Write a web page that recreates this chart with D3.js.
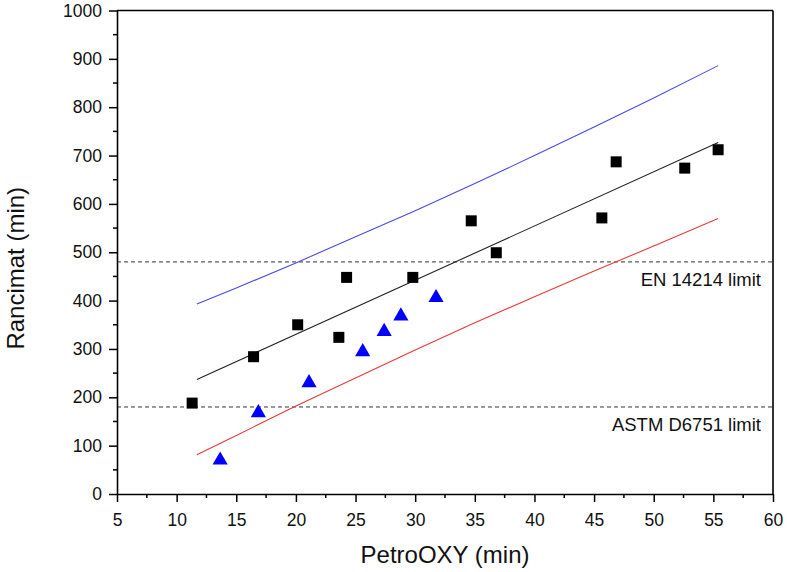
<!DOCTYPE html>
<html><head><meta charset="utf-8">
<script src="https://cdn.jsdelivr.net/npm/d3@7"></script>
<style>body{margin:0;background:#fff}svg{display:block}text{font-family:Arial,"Liberation Sans",sans-serif}</style>
</head><body><svg id="c" width="787" height="572"></svg>
<script>
// Data
const squaresX = [11.3, 16.45, 20.15, 23.6, 24.25, 29.8, 34.7, 36.8, 45.65, 46.85, 52.6, 55.4];
const squaresY = [188, 284, 350, 324, 448, 448, 565, 499, 571, 687, 674, 712];
const trianglesX = [13.65, 16.85, 21.1, 25.6, 27.4, 28.8, 31.75];
const trianglesY = [72, 170, 232, 296, 338, 370, 408];
const fitX = [11.7, 55.4];
const fitY = [237, 727];
const bandX = [11.7, 15, 20, 25, 30, 35, 40, 45, 50, 55.4];
const upperY = [393, 426, 478, 532, 586, 642, 700, 759, 819, 886];
const lowerY = [81, 121, 182, 240, 298, 354, 408, 461, 513, 570];
const limitValues = [480, 180];
const limitLabels = ["EN 14214 limit", "ASTM D6751 limit"];
const xTicks = [5, 10, 15, 20, 25, 30, 35, 40, 45, 50, 55, 60];
const yTicks = [0, 100, 200, 300, 400, 500, 600, 700, 800, 900, 1000];

const FONT = "Arial, 'Liberation Sans', sans-serif";
const svg = d3.select("#c");
const L = 117, R = 773, T = 10.5, B = 494;
const x = d3.scaleLinear().domain([5, 60]).range([L, R]);
const y = d3.scaleLinear().domain([0, 1000]).range([B, T]);

// Limit lines
limitValues.forEach((v, i) => {
  svg.append("line").attr("x1", L).attr("x2", R).attr("y1", y(v)).attr("y2", y(v))
    .attr("stroke", "#333").attr("stroke-width", 1).attr("stroke-dasharray", "4,3");
  svg.append("text").attr("x", 761).attr("y", y(v) + 24).attr("text-anchor", "end")
    .attr("font-family", FONT).attr("font-size", 18.5).attr("fill", "#111").text(limitLabels[i]);
});

const line = d3.line().x(d => x(d[0])).y(d => y(d[1]));
svg.append("path").attr("d", line(bandX.map((v, i) => [v, upperY[i]]))).attr("fill", "none")
  .attr("stroke", "#4a4ae8").attr("stroke-width", 1.1);
svg.append("path").attr("d", line(bandX.map((v, i) => [v, lowerY[i]]))).attr("fill", "none")
  .attr("stroke", "#e83a3a").attr("stroke-width", 1.1);
svg.append("path").attr("d", line(fitX.map((v, i) => [v, fitY[i]]))).attr("fill", "none")
  .attr("stroke", "#222").attr("stroke-width", 1.1);

// Markers
svg.selectAll("rect.sq").data(squaresX.map((v, i) => [v, squaresY[i]])).join("rect")
  .attr("x", d => x(d[0]) - 5.5).attr("y", d => y(d[1]) - 5.5).attr("width", 11).attr("height", 11)
  .attr("fill", "#000");
const tri = d3.symbol().type(d3.symbolTriangle).size(100);
svg.selectAll("path.tri").data(trianglesX.map((v, i) => [v, trianglesY[i]])).join("path")
  .attr("transform", d => `translate(${x(d[0])},${y(d[1]) + 1})`).attr("d", tri).attr("fill", "#0000ff");

// Axes
const xAxis = svg.append("g").attr("transform", `translate(0,${B})`)
  .call(d3.axisBottom(x).tickValues(xTicks).tickFormat(d3.format("d")).tickSize(8).tickSizeOuter(0).tickPadding(12));
const yAxis = svg.append("g").attr("transform", `translate(${L},0)`)
  .call(d3.axisLeft(y).tickValues(yTicks).tickFormat(d3.format("d")).tickSize(8).tickSizeOuter(0).tickPadding(7));
[xAxis, yAxis].forEach(g => {
  g.attr("font-size", 17.5).attr("font-family", FONT);
  g.selectAll("text").attr("font-size", 17.5).attr("font-family", FONT).attr("fill", "#111");
  g.selectAll("line").attr("stroke", "#000").attr("stroke-width", 1.5);
  g.select(".domain").attr("stroke", "#000").attr("stroke-width", 1.6);
});
// minor ticks
const xMinor = xTicks.slice(0, -1).map(v => v + 2.5);
svg.selectAll("line.xm").data(xMinor).join("line").attr("x1", d => x(d)).attr("x2", d => x(d))
  .attr("y1", B).attr("y2", B + 4).attr("stroke", "#000").attr("stroke-width", 1.5);
const yMinor = yTicks.slice(0, -1).map(v => v + 50);
svg.selectAll("line.ym").data(yMinor).join("line").attr("y1", d => y(d)).attr("y2", d => y(d))
  .attr("x1", L).attr("x2", L - 4).attr("stroke", "#000").attr("stroke-width", 1.5);
// frame top & right
svg.append("line").attr("x1", L).attr("x2", R).attr("y1", T).attr("y2", T).attr("stroke", "#000").attr("stroke-width", 1.6);
svg.append("line").attr("x1", R).attr("x2", R).attr("y1", T).attr("y2", B).attr("stroke", "#000").attr("stroke-width", 1.6);

// Titles
svg.append("text").attr("x", (L + R) / 2).attr("y", 563).attr("text-anchor", "middle")
  .attr("font-family", FONT).attr("font-size", 24).attr("fill", "#111").text("PetroOXY (min)");
svg.append("text").attr("transform", `translate(24,${(T + B) / 2 + 16}) rotate(-90)`).attr("text-anchor", "middle")
  .attr("font-family", FONT).attr("font-size", 24).attr("fill", "#111").text("Rancimat (min)");
</script></body></html>
